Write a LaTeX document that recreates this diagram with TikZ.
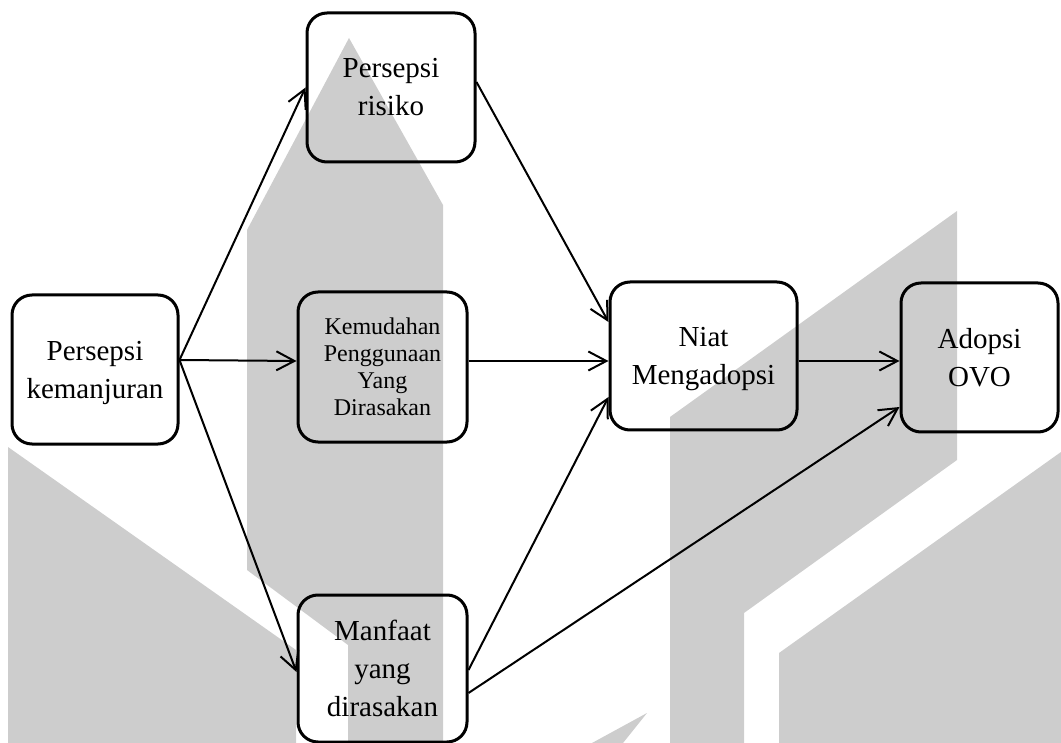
\documentclass[tikz,border=0pt]{standalone}
\usepackage{fontspec}
\setmainfont{Liberation Serif}
\usetikzlibrary{arrows.meta}
\definecolor{wm}{RGB}{205,205,205}
% a last line whose descenders do not count in the node height
\newcommand{\nodepth}[1]{\raisebox{0pt}[\height][0pt]{#1}}
\begin{document}
\begin{tikzpicture}[x=0.5pt,y=-0.5pt,
  box/.style={draw, line width=1.5pt, rounded corners=10pt, align=center, inner sep=0pt},
  big/.style={font=\fontsize{14.5pt}{19pt}\selectfont},
  small/.style={font=\fontsize{12pt}{13.5pt}\selectfont},
  arr/.style={line width=1pt, -{Straight Barb[length=9pt,width=9.5pt]}},
  logo/.style={fill=wm, draw=none}]
\useasboundingbox (0,0) rectangle (1061,743);

% background logo shapes
\fill[logo] (349,38) -- (443,205) -- (443,743) -- (348,743) -- (348,645)
  -- (247,570) -- (247,230) -- cycle;
\fill[logo] (8,447) -- (296,650) -- (296,743) -- (8,743) -- cycle;
\fill[logo] (670,417) -- (957,211) -- (957,460) -- (744,613) -- (744,743)
  -- (670,743) -- cycle;
\fill[logo] (779,653) -- (1061,452) -- (1061,743) -- (779,743) -- cycle;
\fill[logo] (592,743) -- (647,713) -- (623,743) -- cycle;

% variables
\node[box,big,minimum width=83pt,minimum height=74.5pt] (pk) at (95,369.5)
  {Persepsi\\\nodepth{kemanjuran}};
\node[box,big,minimum width=84pt,minimum height=74.5pt] (pr) at (391,87.5)
  {Persepsi\\risiko};
\node[box,small,minimum width=84.5pt,minimum height=75pt] (ke) at (382.5,367)
  {Kemudahan\\Penggunaan\\Yang\\Dirasakan};
\node[box,big,minimum width=84.5pt,minimum height=73.5pt] (mf) at (382.5,668.5)
  {Manfaat\\yang\\dirasakan};
\node[box,big,minimum width=93.5pt,minimum height=74pt] (ni) at (703.5,356)
  {Niat\\\nodepth{Mengadopsi}};
\node[box,big,minimum width=78.5pt,minimum height=74.5pt] (ao) at (979.5,357.5)
  {Adopsi\\OVO};

% relations
\draw[arr] ([yshift=4.75pt]pk.east) -- (pr.west);
\draw[arr] ([yshift=4.75pt]pk.east) -- ([yshift=3pt]ke.west);
\draw[arr] ([yshift=4.75pt]pk.east) -- ([yshift=-1.75pt]mf.west);
\draw[arr] ([yshift=2.75pt]pr.east) -- ([yshift=17pt]ni.west);
\draw[arr] ([yshift=3pt]ke.east) -- ([yshift=-2.5pt]ni.west);
\draw[arr] ([yshift=-0.75pt]mf.east) -- ([yshift=-20.5pt]ni.west);
\draw[arr] ([yshift=-12.25pt]mf.east) -- ([yshift=-24.75pt]ao.west);
\draw[arr] ([yshift=-2.5pt]ni.east) -- ([yshift=-1.75pt]ao.west);
\end{tikzpicture}
\end{document}
